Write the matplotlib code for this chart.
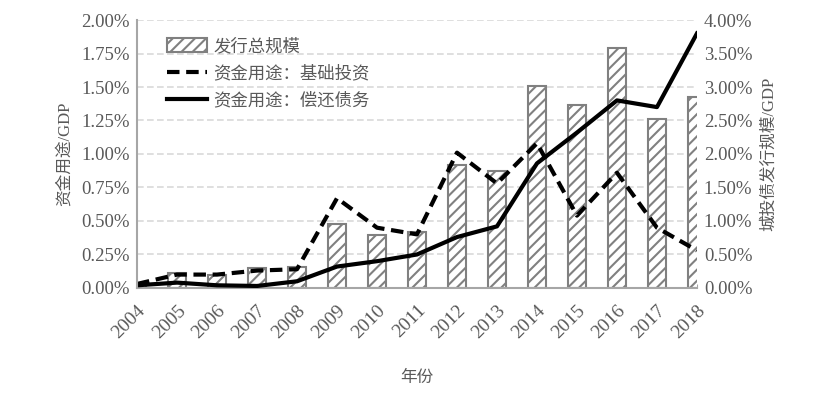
import numpy as np
import matplotlib.pyplot as plt
from matplotlib.lines import Line2D
from matplotlib.patches import Patch
from matplotlib.ticker import FuncFormatter

plt.rcParams['font.family'] = ['Liberation Serif', 'Noto Sans CJK SC', 'DejaVu Sans']
plt.rcParams['hatch.color'] = '#808080'
plt.rcParams['hatch.linewidth'] = 1.5

# data (%)
years = ['2004', '2005', '2006', '2007', '2008', '2009', '2010', '2011',
         '2012', '2013', '2014', '2015', '2016', '2017', '2018']
issue_total = [0.05, 0.22, 0.19, 0.30, 0.31, 0.96, 0.79, 0.84,
               1.84, 1.75, 3.01, 2.73, 3.58, 2.52, 2.85]      # 右轴
use_invest = [0.03, 0.10, 0.10, 0.13, 0.14, 0.67, 0.45, 0.40,
              1.01, 0.78, 1.08, 0.54, 0.86, 0.45, 0.28]       # 左轴
use_repay = [0.02, 0.04, 0.02, 0.015, 0.05, 0.16, 0.20, 0.25,
             0.38, 0.46, 0.93, 1.16, 1.40, 1.35, 1.90]        # 左轴

txt = '#595959'
x = np.arange(len(years))

fig = plt.figure(figsize=(8.31, 3.97), dpi=100)
ax2 = fig.add_axes([0.1649, 0.2746, 0.6738, 0.675])
ax = ax2.twinx()
ax.yaxis.tick_left()
ax.yaxis.set_label_position('left')
ax2.yaxis.tick_right()
ax2.yaxis.set_label_position('right')
ax.set_zorder(ax2.get_zorder() + 1)
ax.patch.set_visible(False)

# bars on the right axis
ax2.bar(x, issue_total, width=0.45, facecolor='white', edgecolor='#808080',
        linewidth=1.5, hatch='///', zorder=2)
ax2.set_ylim(0, 4.0)
ax2.set_yticks(np.arange(0, 4.01, 0.5))
ax2.yaxis.set_major_formatter(FuncFormatter(lambda v, p: '%.2f%%' % v))
ax2.grid(axis='y', color='#D9D9D9', linestyle=(0, (4, 2)), linewidth=1.2, zorder=0)
ax2.set_axisbelow(True)
ax2.set_ylabel('城投债发行规模/GDP', color=txt, fontsize=12, labelpad=6)

# lines on the left axis
ax.plot(x, use_invest, color='black', linewidth=3, linestyle=(0, (3, 1.6)))
ax.plot(x, use_repay, color='black', linewidth=3)
ax.set_ylim(0, 2.0)
ax.set_yticks(np.arange(0, 2.01, 0.25))
ax.yaxis.set_major_formatter(FuncFormatter(lambda v, p: '%.2f%%' % v))
ax.set_ylabel('资金用途/GDP', color=txt, fontsize=12, labelpad=6)

ax2.set_xlim(0, 14)
ax2.set_xticks(x)
ax2.set_xticklabels(years, rotation=45, ha='right', rotation_mode='anchor')
ax2.set_xlabel('年份', color=txt, fontsize=12, labelpad=20)

for a in (ax, ax2):
    for s in a.spines.values():
        s.set_visible(False)
    a.tick_params(axis='y', length=0, colors=txt, labelsize=13.5, pad=5)
ax2.tick_params(axis='x', direction='in', length=3, color='#A6A6A6',
                labelcolor=txt, labelsize=14, pad=10)
ax.spines['left'].set_visible(True)
ax.spines['left'].set_color('#A6A6A6')
ax.spines['left'].set_linewidth(1.5)
ax2.spines['bottom'].set_visible(True)
ax2.spines['bottom'].set_color('#A6A6A6')
ax2.spines['bottom'].set_linewidth(1.5)

handles = [
    Patch(facecolor='white', edgecolor='#808080', hatch='///', linewidth=1.5),
    Line2D([], [], color='black', linewidth=3, linestyle=(0, (3, 1.6))),
    Line2D([], [], color='black', linewidth=3),
]
labels = ['发行总规模', '资金用途：基础投资', '资金用途：偿还债务']
leg = ax.legend(handles, labels, loc='upper left', bbox_to_anchor=(0.025, 0.99),
                frameon=False, fontsize=12.5, handlelength=2.3, handleheight=0.8,
                labelspacing=0.6, handletextpad=0.4)
for t in leg.get_texts():
    t.set_color(txt)

fig.savefig('out.png', dpi=100)
